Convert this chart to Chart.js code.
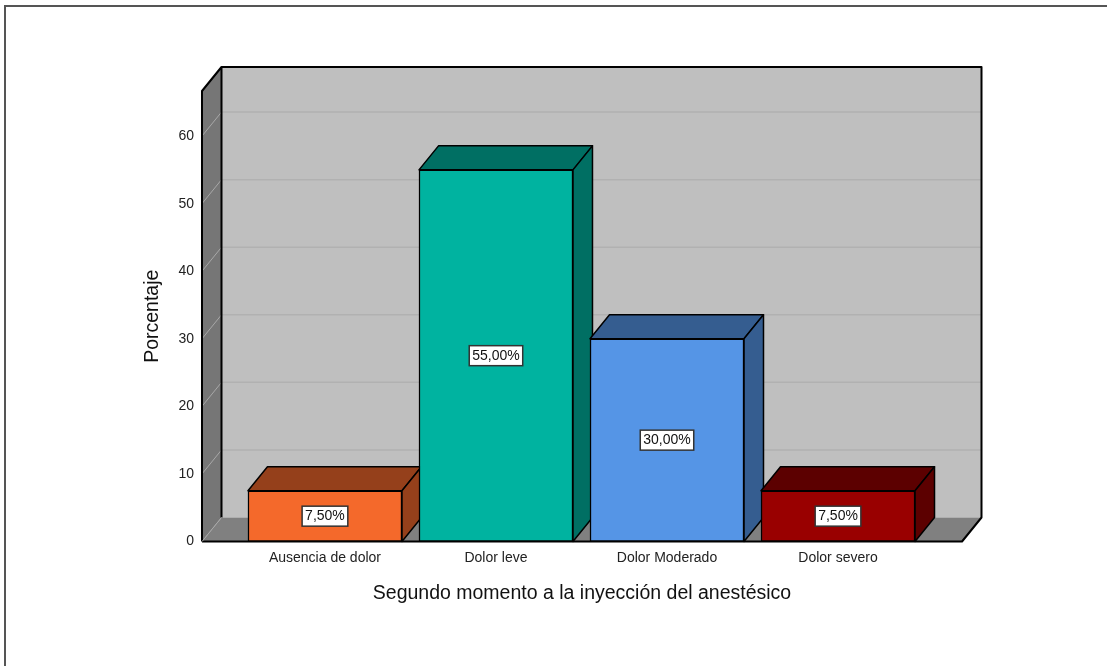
<!DOCTYPE html>
<html lang="es">
<head>
<meta charset="utf-8">
<title>Segundo momento a la inyección del anestésico</title>
<script src="https://cdn.jsdelivr.net/npm/chart.js@4/dist/chart.umd.min.js"></script>
<style>
    html, body { margin: 0; padding: 0; background: #fff; overflow: hidden; }
    #marco {
        position: absolute;
        left: 4px;
        top: 5px;
        right: 0;
        bottom: 0;
        border-top: 2px solid #555;
        border-left: 2px solid #555;
    }
    #grafico { position: absolute; left: 0; top: 0; }
</style>
</head>
<body>
<div id="marco"></div>
<canvas id="grafico" width="1107" height="666"></canvas>
<script>
// Datos del gráfico
const categorias = ['Ausencia de dolor', 'Dolor leve', 'Dolor Moderado', 'Dolor severo'];
const porcentajes = [7.5, 55, 30, 7.5];
const etiquetas = ['7,50%', '55,00%', '30,00%', '7,50%'];
const marcasY = [0, 10, 20, 30, 40, 50, 60];

const coloresFrente = ['#f4692b', '#00b3a0', '#5595e6', '#990000'];
const coloresLado = ['#95401b', '#006f63', '#355d90', '#5c0000'];

// Profundidad de la caja 3D, en píxeles
const FONDO_X = 19.5;
const FONDO_Y = 24;
const FUENTE = '"Liberation Sans", Arial, sans-serif';

function poligono(ctx, puntos, relleno, borde, grosor) {
    ctx.beginPath();
    puntos.forEach((p, i) => (i ? ctx.lineTo(p[0], p[1]) : ctx.moveTo(p[0], p[1])));
    ctx.closePath();
    if (relleno) {
        ctx.fillStyle = relleno;
        ctx.fill();
    }
    if (borde) {
        ctx.strokeStyle = borde;
        ctx.lineWidth = grosor;
        ctx.stroke();
    }
}

// Paredes, piso y líneas de la cuadrícula
const cajaPlugin = {
    id: 'caja3d',
    beforeDatasetsDraw(chart) {
        const ctx = chart.ctx;
        const { left, right, top, bottom } = chart.chartArea;
        const dx = FONDO_X, dy = FONDO_Y;

        ctx.save();
        ctx.lineJoin = 'round';
        poligono(ctx, [[left + dx, top - dy], [right + dx, top - dy], [right + dx, bottom - dy], [left + dx, bottom - dy]], '#bfbfbf');
        poligono(ctx, [[left, top], [left + dx, top - dy], [left + dx, bottom - dy], [left, bottom]], '#767676');
        poligono(ctx, [[left, bottom], [left + dx, bottom - dy], [right + dx, bottom - dy], [right, bottom]], '#808080');

        marcasY.forEach(valor => {
            if (valor === 0) return;
            const y = chart.scales.y.getPixelForValue(valor);
            ctx.strokeStyle = '#b1b1b1';
            ctx.lineWidth = 1.5;
            ctx.beginPath();
            ctx.moveTo(left + dx, y - dy);
            ctx.lineTo(right + dx, y - dy);
            ctx.stroke();
            ctx.strokeStyle = '#a8a8a8';
            ctx.lineWidth = 1;
            ctx.beginPath();
            ctx.moveTo(left, y);
            ctx.lineTo(left + dx, y - dy);
            ctx.stroke();
        });

        // Contornos de la caja
        ctx.strokeStyle = '#000';
        ctx.lineWidth = 2;
        ctx.beginPath();
        ctx.moveTo(left, bottom);
        ctx.lineTo(left, top);
        ctx.lineTo(left + dx, top - dy);
        ctx.lineTo(right + dx, top - dy);
        ctx.lineTo(right + dx, bottom - dy);
        ctx.lineTo(right, bottom);
        ctx.lineTo(left, bottom);
        ctx.moveTo(left + dx, top - dy);
        ctx.lineTo(left + dx, bottom - dy);
        ctx.stroke();
        ctx.lineWidth = 1;
        ctx.strokeStyle = '#a8a8a8';
        ctx.beginPath();
        ctx.moveTo(left, bottom);
        ctx.lineTo(left + dx, bottom - dy);
        ctx.stroke();

        // Caras superior y lateral de cada barra
        chart.getDatasetMeta(0).data.forEach((barra, i) => {
            const mitad = barra.width / 2;
            const x0 = barra.x - mitad, x1 = barra.x + mitad;
            poligono(ctx, [[x0, barra.y], [x0 + dx, barra.y - dy], [x1 + dx, barra.y - dy], [x1, barra.y]], coloresLado[i], '#000', 1.5);
            poligono(ctx, [[x1, barra.y], [x1 + dx, barra.y - dy], [x1 + dx, barra.base - dy], [x1, barra.base]], coloresLado[i], '#000', 1.5);
        });
        ctx.restore();
    },
    // Recuadro con el valor, centrado en la cara frontal
    afterDatasetsDraw(chart) {
        const ctx = chart.ctx;
        ctx.save();
        ctx.font = '14px ' + FUENTE;
        ctx.textAlign = 'center';
        ctx.textBaseline = 'middle';
        chart.getDatasetMeta(0).data.forEach((barra, i) => {
            const yc = (barra.y + barra.base) / 2;
            const ancho = ctx.measureText(etiquetas[i]).width + 6;
            ctx.fillStyle = '#fff';
            ctx.strokeStyle = '#333';
            ctx.lineWidth = 1.5;
            ctx.fillRect(barra.x - ancho / 2, yc - 10, ancho, 20);
            ctx.strokeRect(barra.x - ancho / 2, yc - 10, ancho, 20);
            ctx.fillStyle = '#111';
            ctx.fillText(etiquetas[i], barra.x, yc);
        });
        ctx.restore();
    }
};

new Chart(document.getElementById('grafico'), {
    type: 'bar',
    data: {
        datasets: [{
            data: categorias.map((c, i) => ({ x: i, y: porcentajes[i] })),
            backgroundColor: coloresFrente,
            borderColor: '#000',
            borderWidth: 1.5,
            borderSkipped: false,
            barThickness: 154
        }]
    },
    options: {
        responsive: false,
        animation: false,
        layout: { padding: { top: 91, right: 145, left: 0, bottom: 0 } },
        plugins: { legend: { display: false }, tooltip: { enabled: false } },
        scales: {
            x: {
                type: 'linear',
                offset: false,
                min: -0.719,
                max: 3.725,
                grid: { display: false },
                border: { display: false },
                afterBuildTicks(escala) {
                    escala.ticks = categorias.map((c, i) => ({ value: i }));
                },
                afterFit(escala) {
                    escala.height = 124.5;
                },
                ticks: {
                    autoSkip: false,
                    maxRotation: 0,
                    padding: 0,
                    color: '#222',
                    font: { family: FUENTE, size: 14 },
                    callback: valor => categorias[valor]
                },
                title: {
                    display: true,
                    text: 'Segundo momento a la inyección del anestésico',
                    color: '#111',
                    font: { family: FUENTE, size: 19.5 },
                    padding: { top: 0, bottom: 61 }
                }
            },
            y: {
                min: 0,
                max: 66.67,
                grid: { display: false },
                border: { display: false },
                afterBuildTicks(escala) {
                    escala.ticks = marcasY.map(v => ({ value: v }));
                },
                afterFit(escala) {
                    escala.width = 202;
                },
                ticks: {
                    padding: 0,
                    color: '#222',
                    font: { family: FUENTE, size: 14 }
                },
                title: {
                    display: true,
                    text: 'Porcentaje',
                    color: '#111',
                    font: { family: FUENTE, size: 19.5 },
                    padding: { top: 141, bottom: 0 }
                }
            }
        }
    },
    plugins: [cajaPlugin]
});
</script>
</body>
</html>
